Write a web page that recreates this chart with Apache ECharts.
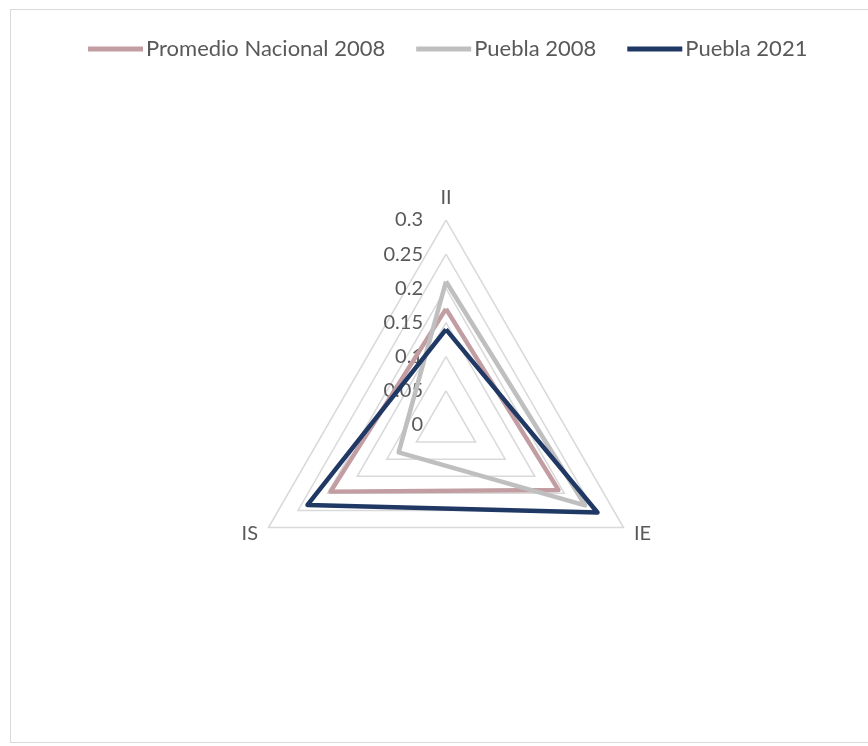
<!DOCTYPE html>
<html>
<head>
<meta charset="utf-8">
<script src="https://cdn.jsdelivr.net/npm/echarts@6/dist/echarts.min.js"></script>
<style>
html,body{margin:0;padding:0;background:#fff;}
#chart{width:868px;height:746px;}
</style>
</head>
<body>
<div id="chart"></div>
<script>
// Indicators (order: top, then counter-clockwise)
const indicatorNames = ['II', 'IS', 'IE'];
const axisMax = 0.3;
const seriesNames = ['Promedio Nacional 2008', 'Puebla 2008', 'Puebla 2021'];
const promedioNacional2008 = [0.17, 0.195, 0.19];
const puebla2008 = [0.21, 0.08, 0.235];
const puebla2021 = [0.14, 0.234, 0.256];
const seriesColors = ['#c29da2', '#bfbfbf', '#203864'];

const chart = echarts.init(document.getElementById('chart'));
const FONT = 'Lato';
const values = [promedioNacional2008, puebla2008, puebla2021];

chart.setOption({
  animation: false,
  backgroundColor: '#fff',
  graphic: [{
    type: 'rect', shape: {x: 10.5, y: 9.5, width: 870, height: 733},
    style: {fill: 'none', stroke: '#d9d9d9', lineWidth: 1}
  }],
  legend: {
    top: 33, left: 83,
    itemWidth: 55, itemHeight: 5, itemGap: 31,
    icon: 'rect',
    textStyle: {fontFamily: FONT, fontSize: 22, color: '#595959', padding: [0, 0, 0, -2]},
    data: seriesNames
  },
  radar: {
    center: [446, 425],
    radius: 205,
    startAngle: 90,
    shape: 'polygon',
    splitNumber: 6,
    indicator: indicatorNames.map((n, i) => ({
      name: n, min: 0, max: axisMax,
      axisLabel: i === 0 ? {show: true} : {show: false}
    })),
    axisName: {color: '#595959', fontFamily: FONT, fontSize: 20},
    nameGap: 12,
    axisLine: {show: false},
    axisTick: {show: false},
    axisLabel: {
      show: false, color: '#595959', fontFamily: FONT, fontSize: 20, margin: 23,
      formatter: v => String(Math.round(v * 100) / 100)
    },
    splitLine: {lineStyle: {color: '#d9d9d9', width: 1.5}},
    splitArea: {show: false}
  },
  series: [{
    type: 'radar',
    symbol: 'none',
    data: seriesNames.map((n, i) => ({
      name: n, value: values[i],
      lineStyle: {color: seriesColors[i], width: 4.5},
      itemStyle: {color: seriesColors[i]}
    }))
  }]
});
</script>
</body>
</html>
